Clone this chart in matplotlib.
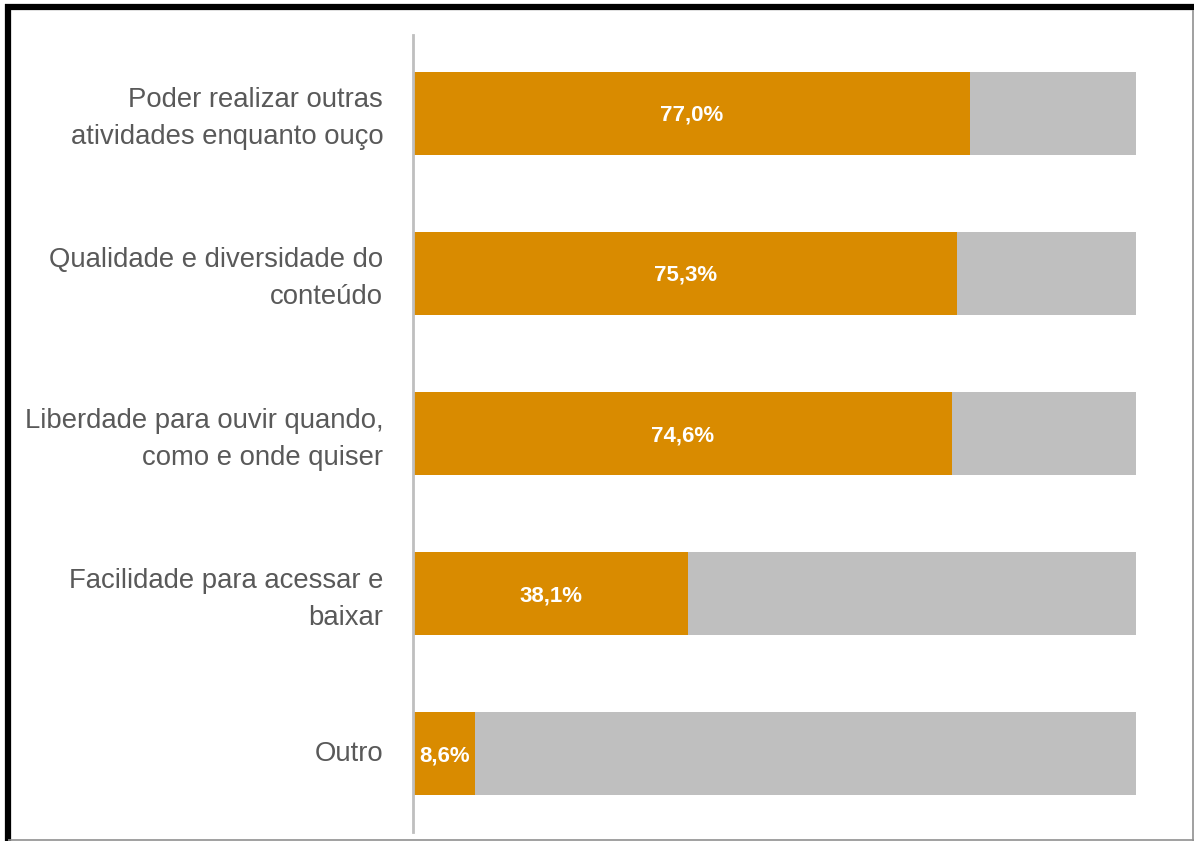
import matplotlib
matplotlib.use("Agg")
import matplotlib.pyplot as plt
from matplotlib.lines import Line2D
from matplotlib.transforms import ScaledTranslation

categories = [
    "Poder realizar outras\natividades enquanto ouço",
    "Qualidade e diversidade do\nconteúdo",
    "Liberdade para ouvir quando,\ncomo e onde quiser",
    "Facilidade para acessar e\nbaixar",
    "Outro",
]
values = [77.0, 75.3, 74.6, 38.1, 8.6]
value_labels = ["77,0%", "75,3%", "74,6%", "38,1%", "8,6%"]

plt.rcParams["font.family"] = ["Liberation Sans", "DejaVu Sans"]

W, H = 1194, 841
fig = plt.figure(figsize=(W / 100, H / 100), dpi=100)
ax = fig.add_axes([413 / W, 1 - 832 / H, 723 / W, (832 - 35) / H])

orange = "#d98b00"
grey = "#bfbfbf"
ypos = list(range(len(categories)))
remainder = [100 - v for v in values]

ax.barh(ypos, values, height=0.52, color=orange, edgecolor="none")
ax.barh(ypos, remainder, left=values, height=0.52, color=grey, edgecolor="none")

value_shift = ax.transData + ScaledTranslation(0, -2 / 100, fig.dpi_scale_trans)
for y, v, lab in zip(ypos, values, value_labels):
    ax.text(v / 2, y, lab, ha="center", va="center", color="white",
            fontsize=16, fontweight="bold", transform=value_shift)

ax.set_xlim(0, 100)
ax.set_ylim(len(categories) - 0.51, -0.49)
ax.set_yticks(ypos)
ax.set_yticklabels(categories, fontsize=19.8, color="#595959", linespacing=1.55,
                   ha="right")
ax.tick_params(axis="y", length=0, pad=21.5)
label_shift = ScaledTranslation(0, 3 / 100, fig.dpi_scale_trans)
for t in ax.get_yticklabels():
    t.set_transform(t.get_transform() + label_shift)
ax.set_xticks([])
for s in ["top", "right", "bottom"]:
    ax.spines[s].set_visible(False)
ax.spines["left"].set_color("#bfbfbf")
ax.spines["left"].set_linewidth(2)

# frame around the figure
def fig_line(x0, y0, x1, y1, color, lw):
    fig.add_artist(Line2D([x0 / W, x1 / W], [1 - y0 / H, 1 - y1 / H],
                          transform=fig.transFigure, color=color, lw=lw,
                          solid_capstyle="butt"))

fig_line(5, 7, W, 7, "black", 4.5)
fig_line(8, 4, 8, H, "black", 4.5)
fig_line(1192.5, 10, 1192.5, H, "#909090", 1.2)
fig_line(8, 839.5, W, 839.5, "#909090", 1.2)

fig.savefig("out.png", dpi=100)
